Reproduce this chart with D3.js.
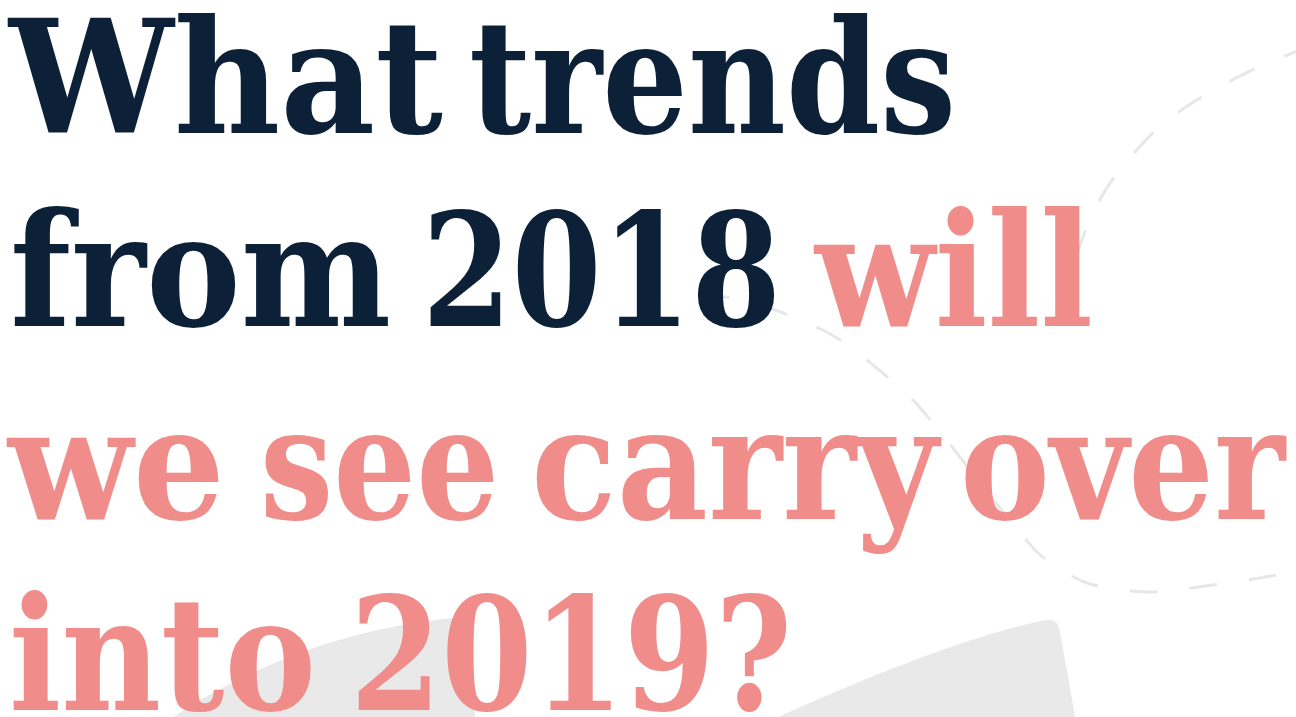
<!DOCTYPE html>
<html>
<head>
<meta charset="utf-8">
<script src="https://cdn.jsdelivr.net/npm/d3@7"></script>
<style>
  html, body { margin: 0; padding: 0; background: #ffffff; }
  svg { display: block; }
</style>
</head>
<body>
<svg id="chart" width="1296" height="717"></svg>
<script>
// ---- content ----
const line1Words = ["What", "trends"];
const line2Words = ["from", "2018", "will"];
const line3Words = ["we", "see", "carry", "over"];
const line4Words = ["into", "2019?"];
const highlightStart = { line: 1, word: 2 }; // from "will" onward text is pink

// ---- layout (word boxes) ----
const lineBaselines = [133, 326, 519, 710];
const wordSpans = [
  [[12, 440], [472, 953]],
  [[13, 388], [425, 778], [818, 1090]],
  [[11, 222], [263, 496], [534, 935], [963, 1282]],
  [[12, 313], [353, 789]]
];

const NAVY = "#0c2137";
const PINK = "#f08c89";
const GREY = "#e9e9e9";
const DASH = "#e7e7e7";

const svg = d3.select("#chart");
const W = 1296, H = 717;

svg.append("rect").attr("width", W).attr("height", H).attr("fill", "#fff");

// ---- background grey wedges (arc top edge, rounded corner, slanted side) ----
const wedges = [
  { start: [173, 717], ctrl: [302, 633], end: [452, 618], corner: [464, 616], cornerEnd: [465, 630], foot: [476, 722] },
  { start: [778, 717], ctrl: [951, 639], end: [1046, 620], corner: [1058, 618], cornerEnd: [1060, 632], foot: [1076, 722] }
];
function wedgePath(d) {
  const p = d3.path();
  p.moveTo(d.start[0] - 6, 722);
  p.lineTo(d.start[0], d.start[1]);
  p.quadraticCurveTo(d.ctrl[0], d.ctrl[1], d.end[0], d.end[1]);
  p.quadraticCurveTo(d.corner[0], d.corner[1], d.cornerEnd[0], d.cornerEnd[1]);
  p.lineTo(d.foot[0], d.foot[1]);
  p.closePath();
  return p.toString();
}
svg.append("g").selectAll("path").data(wedges).join("path")
  .attr("d", wedgePath)
  .attr("fill", GREY);

// ---- dashed arcs ----
const arcLine = d3.line().curve(d3.curveCatmullRom.alpha(0.5));
const arcs = [
  [[1310, 46], [1295, 52], [1268, 63], [1238, 77], [1210, 92], [1183, 109], [1158, 128],
   [1135, 152], [1115, 176], [1098, 203], [1085, 232], [1070, 275]],
  [[702, 293], [713, 295], [735, 299], [775, 310], [800, 320], [832, 335], [858, 353],
   [885, 375], [910, 397], [933, 423], [953, 448], [985, 490], [1017, 528], [1037, 552],
   [1062, 570], [1087, 583], [1117, 589], [1147, 592], [1177, 590], [1205, 586],
   [1237, 582], [1265, 577], [1295, 572], [1310, 569]]
];
svg.append("g").selectAll("path").data(arcs).join("path")
  .attr("d", d => arcLine(d))
  .attr("fill", "none")
  .attr("stroke", DASH)
  .attr("stroke-width", 3)
  .attr("stroke-dasharray", "28 32");

// ---- heading text ----
const lines = [line1Words, line2Words, line3Words, line4Words];
const fontSize = 158;
const words = [];
lines.forEach((ws, li) => {
  ws.forEach((w, wi) => {
    const pink = li > highlightStart.line || (li === highlightStart.line && wi >= highlightStart.word);
    words.push({ text: w, line: li, idx: wi, color: pink ? PINK : NAVY });
  });
});

const x = d3.scaleLinear().domain([0, W]).range([0, W]);
svg.append("g").selectAll("text").data(words).join("text")
  .attr("x", d => x(wordSpans[d.line][d.idx][0] - 3))
  .attr("y", d => lineBaselines[d.line])
  .attr("textLength", d => wordSpans[d.line][d.idx][1] - wordSpans[d.line][d.idx][0] + 6)
  .attr("lengthAdjust", "spacingAndGlyphs")
  .attr("font-family", "'DejaVu Serif', 'Liberation Serif', serif")
  .attr("font-weight", "bold")
  .attr("font-size", fontSize)
  .attr("fill", d => d.color)
  .text(d => d.text);
</script>
</body>
</html>
